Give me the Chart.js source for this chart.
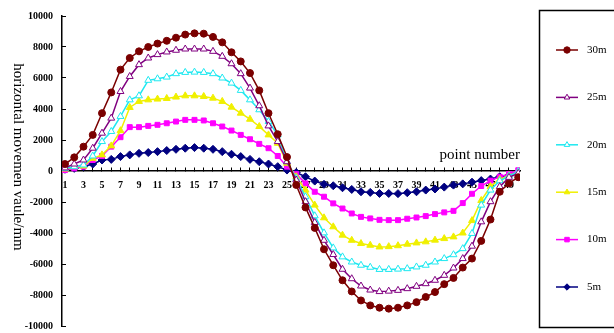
<!DOCTYPE html>
<html><head><meta charset="utf-8">
<script src="https://cdn.jsdelivr.net/npm/chart.js@4.4.1/dist/chart.umd.min.js"></script>
<style>html,body{margin:0;padding:0;background:#fff;overflow:hidden}canvas{display:block}</style>
</head><body>
<canvas id="c" width="614" height="333"></canvas>
<script>
const pointNumbers = [1,2,3,4,5,6,7,8,9,10,11,12,13,14,15,16,17,18,19,20,21,22,23,24,25,26,27,28,29,30,31,32,33,34,35,36,37,38,39,40,41,42,43,44,45,46,47,48,49,50];
const seriesNames = ['30m','25m','20m','15m','10m','5m'];
const s30 = [450,880,1570,2330,3730,5070,6540,7290,7720,8000, 8220,8400,8600,8800,8880,8860,8650,8300,7660,7070, 6320,5200,3730,2370,900,-900,-2350,-3670,-5050,-6080, -7050,-7770,-8350,-8670,-8820,-8880,-8820,-8670,-8460,-8130, -7810,-7300,-6900,-6230,-5650,-4510,-3130,-1340,-800,-400];
const s25 = [200,450,710,1470,2440,3410,5130,6100,6860,7290, 7510,7680,7790,7870,7870,7870,7720,7400,6920,6280, 5350,4210,2910,1900,600,-580,-1980,-3320,-4470,-5390, -6340,-6950,-7420,-7680,-7780,-7750,-7700,-7590,-7440,-7270, -7050,-6730,-6260,-5650,-4850,-3280,-1980,-1010,-410,-150];
const s20 = [170,280,390,970,1900,2550,3520,4590,4850,5850, 5950,6060,6280,6360,6380,6360,6280,6000,5670,5200, 4590,3950,3190,2330,600,-470,-1660,-2890,-3990,-4960, -5540,-5870,-6080,-6210,-6350,-6350,-6330,-6300,-6190,-6080, -5870,-5650,-5400,-5010,-4030,-2200,-1230,-630,-320,-40];
const s15 = [130,280,320,820,1040,1620,2600,4100,4490,4590, 4640,4680,4770,4850,4850,4810,4700,4490,4120,3730, 3340,2870,2330,1790,500,-370,-1230,-2200,-3020,-3600, -4140,-4470,-4680,-4790,-4900,-4880,-4820,-4720,-4640,-4570, -4460,-4360,-4250,-4000,-3200,-1900,-1000,-550,-300,-50];
const s10 = [60,170,280,710,970,1570,2180,2830,2830,2910, 2980,3080,3190,3300,3300,3260,3080,2870,2610,2330, 2050,1750,1470,970,280,-200,-800,-1340,-1660,-2090, -2420,-2740,-2960,-3060,-3150,-3170,-3170,-3080,-3000,-2910, -2780,-2670,-2570,-2070,-1470,-970,-620,-370,-190,50];
const s5 = [110,170,280,450,710,750,930,1040,1140,1190, 1250,1320,1400,1470,1510,1470,1400,1250,1080,930, 750,600,450,280,60,-100,-370,-650,-860,-950, -1080,-1190,-1340,-1380,-1450,-1450,-1460,-1400,-1340,-1230, -1160,-1040,-910,-830,-720,-620,-520,-370,-260,-110];
const xAxisTitle = 'point number';
const yAxisTitle = 'horizontal movemen vaule/mm';

const SERIF = "'Liberation Serif','Times New Roman',serif";
const styles = [
  {c:'#7a0000', bg:'#7a0000', ps:'circle', r:3.5},
  {c:'#800080', bg:'#ffffff', ps:'triangle', r:4},
  {c:'#1ee8f0', bg:'#ffffff', ps:'triangle', r:4},
  {c:'#f0f000', bg:'#f0f000', ps:'triangle', r:4},
  {c:'#ff00ff', bg:'#ff00ff', ps:'rect', r:3.5},
  {c:'#000080', bg:'#000080', ps:'rectRot', r:4}
];
const allSeries = [s30,s25,s20,s15,s10,s5];
const datasets = allSeries.map((arr,i)=>({
  label: seriesNames[i],
  data: pointNumbers.map((x,j)=>({x:x, y:arr[j]})),
  borderColor: styles[i].c,
  backgroundColor: styles[i].bg,
  pointBackgroundColor: styles[i].bg,
  pointBorderColor: styles[i].c,
  pointStyle: styles[i].ps,
  pointRadius: styles[i].r,
  pointBorderWidth: 1,
  borderWidth: 1.5,
  tension: 0,
  fill: false
}));

const overlay = {
  id:'overlay',
  afterDraw(chart){
    const ctx = chart.ctx;
    ctx.save();
    ctx.translate(18, 157);
    ctx.rotate(Math.PI/2);
    ctx.fillStyle = '#000';
    ctx.font = '15px ' + SERIF;
    ctx.textAlign = 'center';
    ctx.textBaseline = 'middle';
    ctx.fillText(yAxisTitle, 0, 0);
    ctx.restore();

    ctx.save();
    ctx.strokeStyle = '#000';
    ctx.lineWidth = 1.5;
    ctx.strokeRect(539.5, 10.5, 90, 317);
    chart.data.datasets.forEach((ds,i)=>{
      const y = 50 + i*47.4;
      ctx.strokeStyle = ds.borderColor;
      ctx.lineWidth = 1.5;
      ctx.beginPath(); ctx.moveTo(556,y); ctx.lineTo(578,y); ctx.stroke();
      ctx.fillStyle = ds.pointBackgroundColor;
      ctx.strokeStyle = ds.borderColor;
      ctx.lineWidth = 1;
      Chart.helpers.drawPoint(ctx, {pointStyle: ds.pointStyle, radius: 3.2, borderWidth: 1, rotation: 0}, 567, y);
      ctx.fillStyle = '#000';
      ctx.font = '11px ' + SERIF;
      ctx.textAlign = 'left';
      ctx.textBaseline = 'middle';
      ctx.fillText(ds.label, 587, y);
    });
    ctx.restore();
  }
};

new Chart(document.getElementById('c'), {
  type: 'line',
  data: { datasets: datasets },
  options: {
    responsive: false,
    animation: false,
    devicePixelRatio: 1,
    layout: { padding: { left: 0, top: 16, right: 94, bottom: 7 } },
    plugins: { legend: { display: false }, tooltip: { enabled: false } },
    scales: {
      x: {
        type: 'linear',
        position: { y: 0 },
        min: 0.676, max: 50.19,
        afterBuildTicks: s => { s.ticks = pointNumbers.map(v => ({ value: v })); },
        afterFit: s => { s.height = 0; s.paddingTop = 0; s.paddingBottom = 0; },
        ticks: {
          autoSkip: false, maxRotation: 0, minRotation: 0, padding: 12, color: '#000',
          font: { family: SERIF, size: 10, weight: 'bold' },
          callback: v => (v % 2 === 1 ? String(v) : '')
        },
        grid: { drawOnChartArea: false, drawTicks: true, tickLength: -4, color: '#000', lineWidth: 1 },
        border: { display: true, color: '#000', width: 1.5 },
        title: { display: true, text: xAxisTitle, align: 'end', color: '#000', font: { family: SERIF, size: 15 }, padding: { top: 0, bottom: 7 } }
      },
      y: {
        type: 'linear',
        min: -10000, max: 10000,
        afterFit: s => { s.width = 62; s.paddingTop = 0; s.paddingBottom = 0; },
        ticks: { stepSize: 2000, padding: 13, color: '#000', font: { family: SERIF, size: 10, weight: 'bold' }, callback: v => String(v) },
        grid: { drawOnChartArea: false, drawTicks: true, tickLength: -4, color: '#000' },
        border: { display: true, color: '#000', width: 1.5 }
      }
    }
  },
  plugins: [overlay]
});
</script>
</body></html>
